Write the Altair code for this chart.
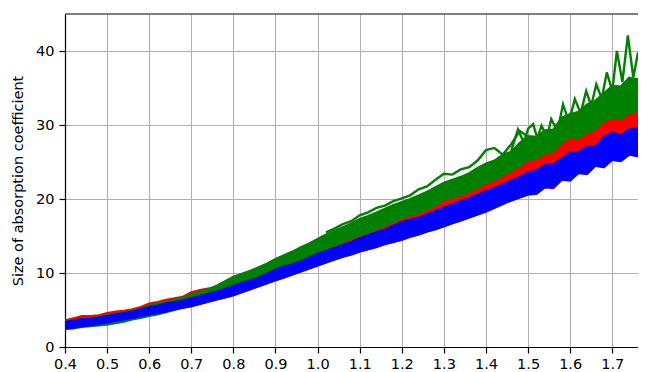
import altair as alt
import pandas as pd

# sample positions along the x axis
x = [0.40, 0.42, 0.44, 0.46, 0.48, 0.50, 0.52, 0.54, 0.56, 0.58,
     0.60, 0.62, 0.64, 0.66, 0.68, 0.70, 0.72, 0.74, 0.76, 0.78,
     0.80, 0.82, 0.84, 0.86, 0.88, 0.90, 0.92, 0.94, 0.96, 0.98,
     1.00, 1.02, 1.04, 1.06, 1.08, 1.10, 1.12, 1.14, 1.16, 1.18,
     1.20, 1.22, 1.24, 1.26, 1.28, 1.30, 1.32, 1.34, 1.36, 1.38,
     1.40, 1.42, 1.44, 1.46, 1.48, 1.50, 1.52, 1.54, 1.56, 1.58,
     1.60, 1.62, 1.64, 1.66, 1.68, 1.70, 1.72, 1.74, 1.76, 1.78]

# lower / upper envelopes of the bundles of curves
blue_lo = [2.5, 2.6, 2.8, 2.9, 3.1, 3.3, 3.5, 3.7, 3.9, 4.2,
           4.4, 4.6, 4.8, 5.1, 5.3, 5.5, 5.8, 6.1, 6.4, 6.7,
           7.0, 7.4, 7.8, 8.2, 8.6, 9.0, 9.4, 9.8, 10.2, 10.6,
           11.0, 11.4, 11.8, 12.2, 12.5, 12.9, 13.2, 13.5, 13.9, 14.2,
           14.5, 14.9, 15.2, 15.6, 15.9, 16.3, 16.7, 17.1, 17.5, 17.9,
           18.3, 18.8, 19.3, 19.8, 20.2, 20.6, 20.7, 21.6, 21.5, 22.6,
           22.5, 23.5, 23.4, 24.5, 24.3, 25.3, 25.1, 26.0, 25.8, 26.8]
blue_hi = [3.4, 3.6, 3.8, 3.8, 4.0, 4.2, 4.4, 4.6, 4.8, 5.1,
           5.4, 5.6, 5.9, 6.1, 6.3, 6.6, 6.9, 7.2, 7.5, 7.9,
           8.3, 8.7, 9.0, 9.4, 9.9, 10.5, 10.9, 11.2, 11.6, 12.1,
           12.6, 13.0, 13.4, 13.8, 14.2, 14.7, 15.1, 15.5, 15.9, 16.4,
           16.9, 17.2, 17.5, 17.9, 18.4, 18.9, 19.3, 19.7, 20.1, 20.6,
           21.1, 21.5, 22.0, 22.5, 23.0, 23.6, 23.9, 24.6, 24.7, 25.5,
           26.3, 26.3, 27.1, 27.1, 28.4, 29.0, 28.6, 29.4, 29.6, 30.3]
red_hi = [3.6, 3.9, 4.2, 4.2, 4.3, 4.6, 4.8, 4.9, 5.1, 5.4,
          5.9, 6.1, 6.4, 6.6, 6.8, 7.4, 7.7, 7.9, 8.1, 8.4,
          8.4, 8.8, 9.1, 9.5, 10.0, 10.6, 11.0, 11.3, 11.7, 12.2,
          12.7, 13.2, 13.7, 14.2, 14.7, 15.1, 15.5, 15.9, 16.4, 16.9,
          17.4, 17.8, 18.1, 18.6, 19.1, 19.9, 20.2, 20.5, 21.0, 21.5,
          22.2, 22.6, 23.2, 23.8, 24.4, 25.3, 25.4, 26.2, 26.4, 27.6,
          28.4, 28.2, 29.0, 29.4, 30.5, 31.0, 30.8, 31.6, 31.9, 32.8]
green_lo = [2.4, 2.5, 2.7, 2.8, 2.9, 3.0, 3.2, 3.4, 3.7, 3.9,
            4.2, 4.4, 4.7, 5.0, 5.3, 5.6, 6.6, 6.9, 7.2, 7.6,
            8.0, 8.8, 9.1, 9.5, 10.0, 10.6, 11.0, 11.3, 11.7, 12.2,
            12.7, 13.2, 13.7, 14.2, 14.7, 15.1, 15.5, 15.9, 16.4, 16.9,
            17.4, 17.8, 18.1, 18.6, 19.1, 19.9, 20.2, 20.5, 21.0, 21.5,
            22.2, 22.6, 23.2, 23.8, 24.4, 25.3, 25.4, 26.2, 26.4, 27.6,
            28.4, 28.2, 29.0, 29.4, 30.5, 31.0, 30.8, 31.6, 31.9, 32.8]
green_hi = [3.4, 3.6, 3.8, 3.9, 4.1, 4.3, 4.5, 4.7, 4.9, 5.2,
            5.6, 5.9, 6.1, 6.4, 6.7, 7.1, 7.5, 7.8, 8.3, 8.9,
            9.5, 9.9, 10.3, 10.8, 11.3, 11.9, 12.4, 12.9, 13.5, 14.0,
            14.6, 15.2, 15.7, 16.2, 16.7, 17.3, 17.7, 18.2, 18.7, 19.2,
            19.6, 20.0, 20.5, 21.0, 21.6, 22.2, 22.6, 23.0, 23.5, 24.2,
            24.8, 25.2, 26.0, 26.4, 27.6, 28.5, 28.4, 29.3, 29.4, 31.0,
            31.5, 31.8, 32.8, 33.3, 34.3, 35.3, 35.2, 36.4, 36.2, 37.0]

# single green curves that stand out above the bundle
outA_x = [1.02, 1.04, 1.06, 1.08, 1.10, 1.12, 1.14, 1.16, 1.18, 1.20,
          1.22, 1.24, 1.26, 1.28, 1.30, 1.32, 1.34, 1.36, 1.38, 1.40,
          1.42, 1.44, 1.46, 1.48, 1.50]
outA_y = [15.5, 16.0, 16.6, 17.0, 17.8, 18.2, 18.8, 19.1, 19.7, 20.1,
          20.5, 21.3, 21.7, 22.6, 23.4, 23.3, 24.0, 24.3, 25.2, 26.6,
          26.9, 26.0, 27.4, 29.2, 28.4]
outB_x = [1.46, 1.476, 1.49, 1.50, 1.512, 1.522, 1.532, 1.545, 1.555, 1.57,
          1.583, 1.597, 1.611, 1.625, 1.638, 1.65, 1.662, 1.675, 1.687, 1.70,
          1.711, 1.724, 1.737, 1.75, 1.761, 1.77, 1.78]
outB_y = [26.5, 29.4, 27.6, 29.5, 30.1, 28.2, 29.9, 28.3, 30.8, 29.2,
          32.8, 30.4, 33.5, 31.6, 34.6, 32.6, 35.5, 33.6, 37.1, 34.6,
          40.0, 35.8, 42.1, 36.4, 39.8, 36.8, 38.9]

x_ticks = [0.4, 0.5, 0.6, 0.7, 0.8, 0.9, 1.0, 1.1, 1.2, 1.3, 1.4, 1.5, 1.6, 1.7]
y_ticks = [0, 10, 20, 30, 40]

GREEN, RED, BLUE = "#008000", "#ff0000", "#0000ff"
FONT = "DejaVu Sans"
W, H = 573, 333

band = pd.DataFrame({"x": x, "blue_lo": blue_lo, "blue_hi": blue_hi,
                     "red_hi": red_hi, "green_lo": green_lo, "green_hi": green_hi})
outA = pd.DataFrame({"x": outA_x, "y": outA_y})
outB = pd.DataFrame({"x": outB_x, "y": outB_y})

xs = alt.Scale(domain=[0.4, 1.7611], nice=False, zero=False)
ys = alt.Scale(domain=[0, 45], nice=False)

x_axis = alt.Axis(values=x_ticks, format=".1f", title=None,
                  tickSize=6, labelPadding=4, labelFlush=False)
y_axis = alt.Axis(values=y_ticks, title="Size of absorption coefficient",
                  tickSize=6, labelPadding=5, titlePadding=10, labelFlush=False)

def area(lo, hi, col):
    return alt.Chart(band).mark_area(color=col, stroke=col, strokeWidth=2,
                                     opacity=1, clip=True).encode(
        x=alt.X("x:Q", scale=xs, axis=x_axis),
        y=alt.Y(f"{lo}:Q", scale=ys, axis=y_axis),
        y2=alt.Y2(f"{hi}:Q"),
    )

def line(df, col):
    return alt.Chart(df).mark_line(color=col, strokeWidth=2.4, clip=True).encode(
        x=alt.X("x:Q", scale=xs, axis=x_axis),
        y=alt.Y("y:Q", scale=ys, axis=y_axis),
    )

# top spine of the frame
top_spine = alt.Chart(pd.DataFrame({"k": [0]})).mark_rule(
    color="black", strokeWidth=1.2).encode(
    x=alt.value(0), x2=alt.value(W), y=alt.value(0))

chart = alt.layer(
    area("blue_lo", "red_hi", RED),
    area("green_lo", "green_hi", GREEN),
    line(outA, GREEN),
    line(outB, GREEN),
    area("blue_lo", "blue_hi", BLUE),
    top_spine,
).properties(
    width=W, height=H,
    padding={"left": 57, "top": 6, "right": 0, "bottom": 26},
    autosize=alt.AutoSizeParams(type="none"),
).configure_view(
    strokeWidth=0
).configure_axis(
    labelFont=FONT, titleFont=FONT, labelFontSize=14.5, titleFontSize=14.5,
    labelColor="black", titleColor="black", titleFontWeight="normal",
    tickColor="black", tickWidth=1.2,
    domain=True, domainColor="black", domainWidth=1.2,
    grid=True, gridColor="#b0b0b0", gridWidth=1.1,
)

chart.save("out.html", embed_options={"renderer": "svg", "actions": False})
